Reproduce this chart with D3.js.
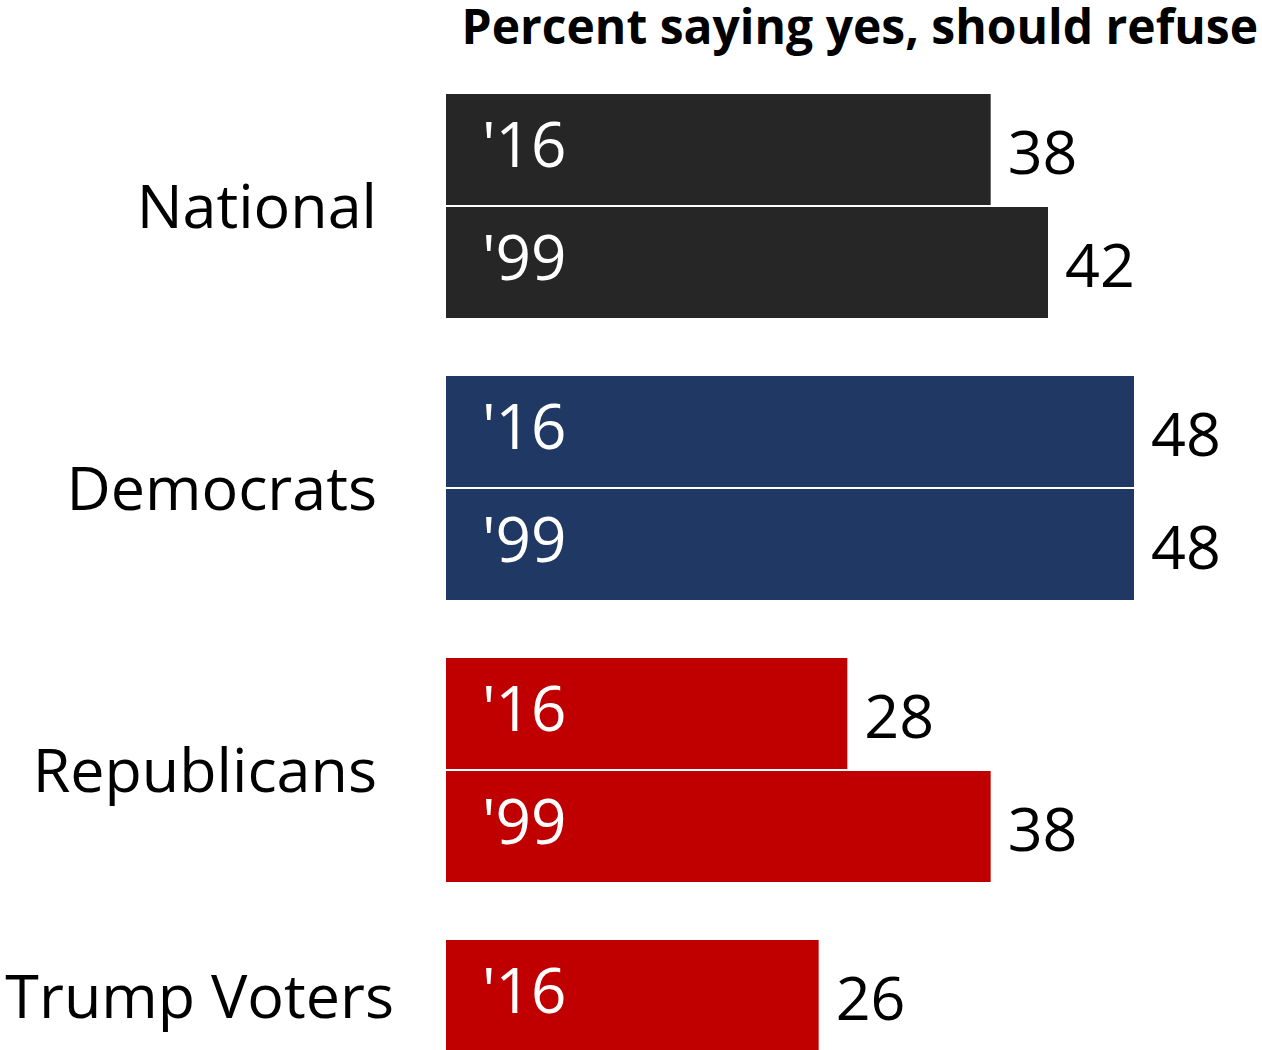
<!DOCTYPE html>
<html>
<head>
<meta charset="utf-8">
<script src="https://cdn.jsdelivr.net/npm/d3@7"></script>
<style>
  html, body { margin: 0; padding: 0; background: #fff; }
  svg { display: block; }
  text { font-family: "Open Sans", "Noto Sans", sans-serif; }
</style>
</head>
<body>
<svg id="chart" width="1262" height="1050"></svg>
<script>
// ---- data ----
const categories = ["National", "Democrats", "Republicans", "Trump Voters"];
const years = ["'16", "'99"];
const values16 = [38, 48, 28, 26];
const values99 = [42, 48, 38, null];
const colors = ["#262626", "#203864", "#C00000", "#C00000"];
const title = "Percent saying yes, should refuse";

// ---- build rows ----
const rows = [];
categories.forEach((c, i) => {
  [values16[i], values99[i]].forEach((v, j) => {
    if (v !== null) rows.push({ cat: c, year: years[j], value: v, color: colors[i] });
  });
});

const svg = d3.select("#chart");

const x = d3.scaleLinear().domain([0, 48]).range([446, 1134]);
const yGroup = d3.scaleBand().domain(categories).range([94, 1164]).paddingInner(58 / 282).paddingOuter(0);
const yInner = d3.scaleBand().domain(years).range([0, yGroup.bandwidth()]).paddingInner(2 / 113).paddingOuter(0);

const yTop = d => yGroup(d.cat) + yInner(d.year);
const yMid = d => yTop(d) + yInner.bandwidth() / 2;

// bars
svg.append("g").selectAll("rect").data(rows).join("rect")
  .attr("x", x(0))
  .attr("y", yTop)
  .attr("width", d => x(d.value) - x(0))
  .attr("height", yInner.bandwidth())
  .attr("fill", d => d.color);

// year labels inside bars
svg.append("g").selectAll("text").data(rows).join("text")
  .attr("x", x(0) + 36)
  .attr("y", d => yMid(d) + 17)
  .attr("fill", "#fff")
  .attr("font-size", 62)
  .text(d => d.year);

// value labels
svg.append("g").selectAll("text").data(rows).join("text")
  .attr("x", d => x(d.value) + 17)
  .attr("y", d => yMid(d) + 24)
  .attr("fill", "#000")
  .attr("font-size", 61)
  .text(d => d.value);

// category labels
svg.append("g").selectAll("text").data(categories).join("text")
  .attr("x", (d, i) => values99[i] === null ? x(0) - 52 : x(0) - 69)
  .attr("y", (d, i) => {
    const single = values99[i] === null;
    const c = single ? yGroup(d) + yInner.bandwidth() / 2 : yGroup(d) + yGroup.bandwidth() / 2;
    return c + 22;
  })
  .attr("text-anchor", "end")
  .attr("fill", "#000")
  .attr("font-size", 61)
  .text(d => d);

// title
svg.append("text")
  .attr("x", 1258)
  .attr("y", 44)
  .attr("text-anchor", "end")
  .attr("font-weight", "bold")
  .attr("font-size", 48)
  .attr("fill", "#000")
  .text(title);
</script>
</body>
</html>
